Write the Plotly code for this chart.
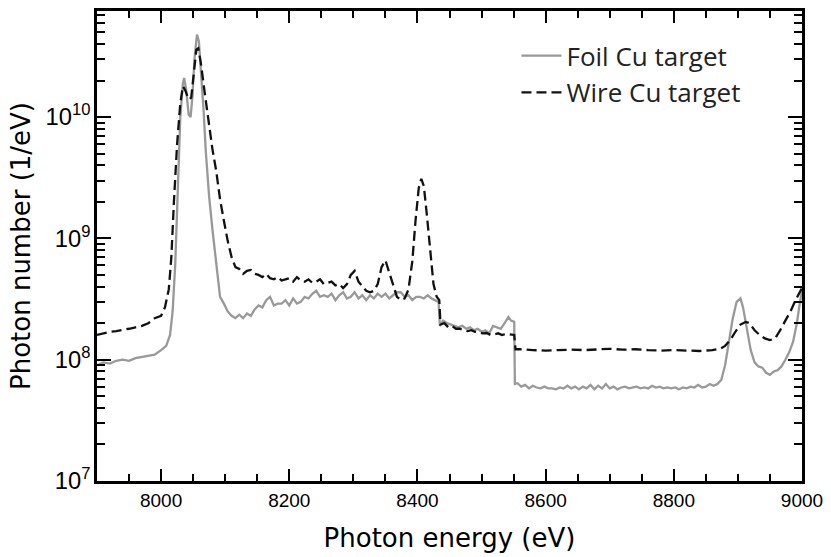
import plotly.graph_objects as go

# Foil Cu target (solid grey)
foil_e = [7900, 7910, 7920, 7930, 7940, 7950, 7960, 7970, 7980, 7990, 8000, 8008, 8014, 8018, 8022, 8026, 8030, 8034, 8036, 8039, 8043, 8046, 8049, 8052, 8056, 8059, 8062, 8066, 8070, 8075, 8080, 8086, 8092, 8098, 8104, 8110, 8116, 8122, 8128, 8134, 8140, 8146, 8152, 8158, 8164, 8170, 8176, 8182, 8188, 8194, 8200, 8206, 8212, 8218, 8224, 8230, 8236, 8242, 8248, 8254, 8260, 8266, 8272, 8278, 8284, 8290, 8296, 8302, 8308, 8314, 8320, 8326, 8332, 8338, 8344, 8350, 8356, 8362, 8368, 8374, 8380, 8386, 8392, 8398, 8404, 8410, 8416, 8422, 8428, 8433, 8435, 8440, 8446, 8452, 8458, 8464, 8470, 8476, 8482, 8488, 8494, 8500, 8506, 8512, 8518, 8524, 8530, 8536, 8542, 8546, 8551, 8552, 8556, 8562, 8568, 8574, 8580, 8586, 8592, 8598, 8604, 8610, 8616, 8622, 8628, 8634, 8640, 8646, 8652, 8658, 8664, 8670, 8676, 8682, 8688, 8694, 8700, 8706, 8712, 8718, 8724, 8730, 8736, 8742, 8748, 8754, 8760, 8766, 8772, 8778, 8784, 8790, 8796, 8802, 8808, 8814, 8820, 8826, 8832, 8838, 8844, 8850, 8856, 8862, 8868, 8874, 8880, 8886, 8892, 8898, 8904, 8908, 8914, 8920, 8926, 8932, 8938, 8944, 8950, 8956, 8962, 8968, 8974, 8980, 8986, 8992, 8996, 9000]
foil_n = [9.0e7, 9.5e7, 9.3e7, 9.8e7, 1.0e8, 9.8e7, 1.03e8, 1.05e8, 1.08e8, 1.1e8, 1.2e8, 1.3e8, 1.6e8, 2.5e8, 6e8, 2.5e9, 1.0e10, 1.9e10, 2.1e10, 1.7e10, 1.05e10, 1.0e10, 1.5e10, 3.0e10, 4.8e10, 4.2e10, 2.5e10, 1.2e10, 5e9, 2.2e9, 1.2e9, 6e8, 3.3e8, 2.9e8, 2.5e8, 2.3e8, 2.2e8, 2.35e8, 2.2e8, 2.4e8, 2.3e8, 2.6e8, 2.8e8, 2.7e8, 3.1e8, 3.3e8, 2.8e8, 2.9e8, 2.9e8, 3.1e8, 2.8e8, 3.2e8, 2.9e8, 3.0e8, 3.3e8, 3.2e8, 3.5e8, 3.7e8, 3.3e8, 3.4e8, 3.3e8, 3.5e8, 3.1e8, 3.4e8, 3.6e8, 3.2e8, 3.3e8, 3.6e8, 3.2e8, 3.4e8, 3.1e8, 3.4e8, 3.2e8, 3.5e8, 3.3e8, 3.5e8, 3.2e8, 3.4e8, 3.6e8, 3.6e8, 3.3e8, 3.4e8, 3.1e8, 3.3e8, 3.3e8, 3.2e8, 3.4e8, 3.2e8, 3.1e8, 3.0e8, 1.9e8, 2.1e8, 2.0e8, 1.95e8, 1.9e8, 1.85e8, 1.9e8, 1.8e8, 1.85e8, 1.75e8, 1.8e8, 1.7e8, 1.75e8, 1.65e8, 1.9e8, 1.85e8, 1.8e8, 2.0e8, 2.25e8, 2.1e8, 2.05e8, 6.3e7, 6.4e7, 6.0e7, 6.2e7, 5.8e7, 6.1e7, 5.9e7, 5.8e7, 6.0e7, 5.8e7, 5.8e7, 5.7e7, 5.9e7, 5.8e7, 6.1e7, 5.8e7, 6.0e7, 5.7e7, 6.0e7, 5.8e7, 6.2e7, 5.7e7, 6.1e7, 5.8e7, 6.3e7, 5.8e7, 6.0e7, 5.7e7, 5.9e7, 6.0e7, 5.8e7, 5.9e7, 6.0e7, 5.8e7, 5.9e7, 5.8e7, 6.1e7, 5.9e7, 6.0e7, 5.8e7, 5.9e7, 5.8e7, 5.9e7, 5.7e7, 5.9e7, 5.8e7, 6.0e7, 5.9e7, 6.2e7, 5.9e7, 6.0e7, 6.3e7, 6.1e7, 6.3e7, 6.8e7, 9e7, 1.4e8, 2.2e8, 3.0e8, 3.2e8, 2.7e8, 1.8e8, 1.2e8, 9.5e7, 8.8e7, 8.6e7, 7.8e7, 7.5e7, 8.0e7, 8.2e7, 8.8e7, 1.0e8, 1.15e8, 1.4e8, 2.0e8, 2.8e8, 3.7e8]

# Wire Cu target (dashed black)
wire_e = [7900, 7910, 7920, 7930, 7940, 7950, 7960, 7970, 7980, 7990, 8000, 8006, 8012, 8016, 8020, 8025, 8030, 8034, 8038, 8043, 8047, 8051, 8055, 8058, 8062, 8068, 8074, 8080, 8086, 8092, 8098, 8104, 8110, 8116, 8122, 8128, 8134, 8140, 8146, 8152, 8158, 8164, 8170, 8176, 8182, 8188, 8194, 8200, 8206, 8212, 8218, 8224, 8230, 8236, 8242, 8248, 8254, 8260, 8266, 8272, 8278, 8284, 8290, 8296, 8302, 8308, 8314, 8320, 8326, 8332, 8338, 8344, 8350, 8356, 8362, 8368, 8374, 8380, 8386, 8392, 8397, 8402, 8406, 8410, 8415, 8420, 8425, 8430, 8434, 8436, 8442, 8448, 8454, 8460, 8466, 8472, 8478, 8484, 8490, 8496, 8502, 8508, 8514, 8520, 8526, 8532, 8538, 8544, 8551, 8553, 8560, 8580, 8600, 8620, 8640, 8660, 8680, 8700, 8720, 8740, 8760, 8780, 8800, 8820, 8840, 8860, 8872, 8880, 8888, 8896, 8904, 8912, 8918, 8926, 8934, 8942, 8950, 8958, 8966, 8974, 8982, 8990, 9000]
wire_n = [1.6e8, 1.65e8, 1.7e8, 1.72e8, 1.75e8, 1.8e8, 1.85e8, 1.9e8, 2.0e8, 2.2e8, 2.3e8, 2.7e8, 3.8e8, 7e8, 2e9, 6e9, 1.3e10, 1.8e10, 1.65e10, 1.4e10, 1.45e10, 2.3e10, 3.6e10, 3.7e10, 2.8e10, 1.6e10, 9e9, 5.5e9, 3.6e9, 2.1e9, 1.4e9, 9.5e8, 7e8, 5.8e8, 5.6e8, 5.1e8, 5.4e8, 5.5e8, 5.1e8, 5.0e8, 4.8e8, 5.1e8, 4.7e8, 4.6e8, 4.8e8, 4.5e8, 4.6e8, 4.7e8, 4.4e8, 4.8e8, 4.5e8, 4.4e8, 4.6e8, 4.3e8, 4.4e8, 4.6e8, 4.2e8, 4.3e8, 4.4e8, 4.1e8, 4.2e8, 3.9e8, 4.2e8, 5.0e8, 5.4e8, 4.4e8, 4.0e8, 3.7e8, 3.6e8, 3.7e8, 4.2e8, 5.8e8, 6.6e8, 5.2e8, 4.0e8, 3.3e8, 3.1e8, 3.2e8, 3.8e8, 6.5e8, 1.4e9, 2.6e9, 3.1e9, 2.7e9, 1.5e9, 7.5e8, 4.2e8, 3.3e8, 3.1e8, 1.95e8, 2.0e8, 1.85e8, 1.9e8, 1.8e8, 1.8e8, 1.75e8, 1.72e8, 1.75e8, 1.7e8, 1.68e8, 1.65e8, 1.66e8, 1.6e8, 1.62e8, 1.65e8, 1.6e8, 1.63e8, 1.62e8, 1.6e8, 1.22e8, 1.22e8, 1.2e8, 1.19e8, 1.2e8, 1.21e8, 1.2e8, 1.22e8, 1.23e8, 1.21e8, 1.22e8, 1.2e8, 1.19e8, 1.2e8, 1.19e8, 1.18e8, 1.2e8, 1.23e8, 1.3e8, 1.45e8, 1.7e8, 1.95e8, 2.05e8, 2.0e8, 1.75e8, 1.6e8, 1.5e8, 1.45e8, 1.5e8, 1.75e8, 2.1e8, 2.5e8, 3.1e8, 3.9e8]

series_names = ["Foil Cu target", "Wire Cu target"]
x_title = "Photon energy (eV)"
y_title = "Photon number (1/eV)"

# minor tick positions (log axis: 2..9 times each decade)
y_decades = [7, 8, 9, 10]
y_minor_mult = [2, 3, 4, 5, 6, 7, 8, 9]
y_minor_vals = [m * 10 ** d for d in y_decades for m in y_minor_mult]

x_range = [7900, 9000]
y_range_log = [7, 10.875]

fig = go.Figure()
fig.add_trace(go.Scatter(x=foil_e, y=foil_n, mode="lines", name=series_names[0],
                         line=dict(color="#999999", width=2.3)))
fig.add_trace(go.Scatter(x=wire_e, y=wire_n, mode="lines", name=series_names[1],
                         line=dict(color="#111111", width=2.3, dash="10px,5px")))
# helper (invisible) trace so the minor-tick overlay axes are drawn
fig.add_trace(go.Scatter(x=foil_e[:2], y=foil_n[:2], xaxis="x2", yaxis="y2", mode="lines",
                         line=dict(width=0, color="rgba(0,0,0,0)"), showlegend=False,
                         hoverinfo="skip"))

tick_font = dict(family="Liberation Sans", size=19, color="black")
title_font = dict(family="DejaVu Sans", size=26, color="black")

fig.update_layout(
    xaxis=dict(range=x_range, dtick=200, tick0=8000,
               showline=True, linecolor="black", linewidth=2.5, mirror="ticks",
               ticks="inside", ticklen=12, tickwidth=2.2, tickcolor="black",
               showgrid=False, zeroline=False, tickfont=tick_font,
               title=dict(text=x_title, font=title_font, standoff=20)),
    yaxis=dict(type="log", range=y_range_log, dtick=1, exponentformat="power",
               showline=True, linecolor="black", linewidth=2.5, mirror="ticks",
               ticks="inside", ticklen=14, tickwidth=2.2, tickcolor="black",
               showgrid=False, zeroline=False, tickfont=tick_font,
               title=dict(text=y_title, font=title_font, standoff=8)),
    xaxis2=dict(overlaying="x", matches="x", range=x_range, dtick=50, tick0=7900,
                side="bottom", anchor="y2", showline=False, mirror="ticks",
                ticks="inside", ticklen=7, tickwidth=2, tickcolor="black",
                showticklabels=False, showgrid=False, zeroline=False),
    yaxis2=dict(overlaying="y", type="log", range=y_range_log, tickvals=y_minor_vals,
                side="left", anchor="x2", showline=False, mirror="ticks",
                ticks="inside", ticklen=8, tickwidth=2, tickcolor="black",
                showticklabels=False, showgrid=False, zeroline=False),
    width=831, height=557,
    margin=dict(l=97, r=22, t=8, b=75),
    plot_bgcolor="white", paper_bgcolor="white",
    legend=dict(x=0.595, y=0.955, xanchor="left", yanchor="top",
                font=dict(family="Open Sans", size=26, color="#222222"),
                bgcolor="rgba(0,0,0,0)", tracegroupgap=0, itemwidth=40),
    showlegend=True,
)

fig.write_html("out.html", config={"displayModeBar": False})

# remove default page margin so the figure sits at the window origin
with open("out.html", "r", encoding="utf-8") as f:
    html = f.read()
html = html.replace("<body>", '<body style="margin:0;padding:0;overflow:hidden">', 1)
with open("out.html", "w", encoding="utf-8") as f:
    f.write(html)
